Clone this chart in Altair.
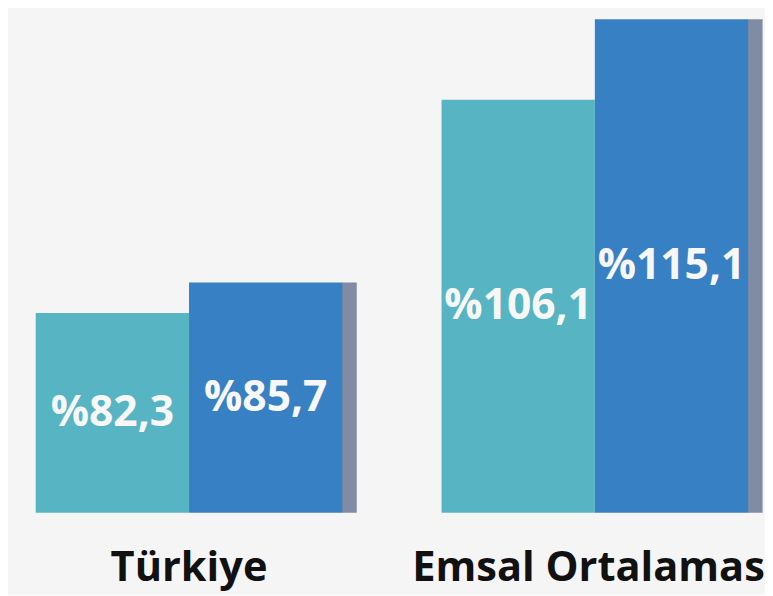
import altair as alt
import pandas as pd

groups = ["Türkiye", "Türkiye", "Emsal Ortalaması", "Emsal Ortalaması"]
series = ["A", "B", "A", "B"]
values = [82.3, 85.7, 106.1, 115.1]
labels = ["%82,3", "%85,7", "%106,1", "%115,1"]

group_order = ["Türkiye", "Emsal Ortalaması"]
series_order = ["A", "B"]
colors = ["#57B5C3", "#3880C4"]

df = pd.DataFrame({"group": groups, "series": series, "value": values, "label": labels})

Y_MIN, Y_MAX = 60, 116

x_enc = alt.X("group:N", sort=group_order,
              scale=alt.Scale(range=[28, 748], paddingInner=0.2444, paddingOuter=0),
              axis=alt.Axis(title=None, labelAngle=0, domain=False, ticks=False,
                            labelFont="Open Sans", labelFontWeight="bold",
                            labelFontSize=42, labelColor="#111111",
                            labelPadding=35, labelOverlap=False, labelLimit=0,
                            labelBound=False, labelFlush=False))
xo_enc = alt.XOffset("series:N", sort=series_order,
                     scale=alt.Scale(paddingInner=0, paddingOuter=0))
y_scale = alt.Scale(domain=[Y_MIN, Y_MAX], zero=False, nice=False)

base = alt.Chart(df)

shadow = base.transform_filter(alt.datum.series == "B").mark_bar(
    color="#7F8CA3", width=15, xOffset=162
).encode(
    x=x_enc,
    y=alt.Y("value:Q", scale=y_scale, axis=None),
    y2=alt.datum(Y_MIN),
)

bars = base.mark_bar().encode(
    x=x_enc, xOffset=xo_enc,
    y=alt.Y("value:Q", scale=y_scale, axis=None),
    y2=alt.datum(Y_MIN),
    color=alt.Color("series:N", sort=series_order,
                    scale=alt.Scale(domain=series_order, range=colors), legend=None),
)

text = base.transform_calculate(
    mid=f"(datum.value + {Y_MIN}) / 2"
).mark_text(
    color="#F7F7F7", font="Open Sans", fontWeight="bold", fontSize=43,
    align="center", baseline="middle"
).encode(
    x=x_enc, xOffset=xo_enc,
    y=alt.Y("mid:Q", scale=y_scale, axis=None),
    text="label:N",
)

chart = alt.layer(shadow, bars, text).properties(
    width=765, height=507,
    autosize=alt.AutoSizeParams(type="none"),
    padding={"left": 0, "top": 0, "right": 0, "bottom": 80},
    background="#F5F5F5",
).configure_view(stroke=None)

chart.save("out.html", embed_options={"renderer": "svg", "actions": False})
